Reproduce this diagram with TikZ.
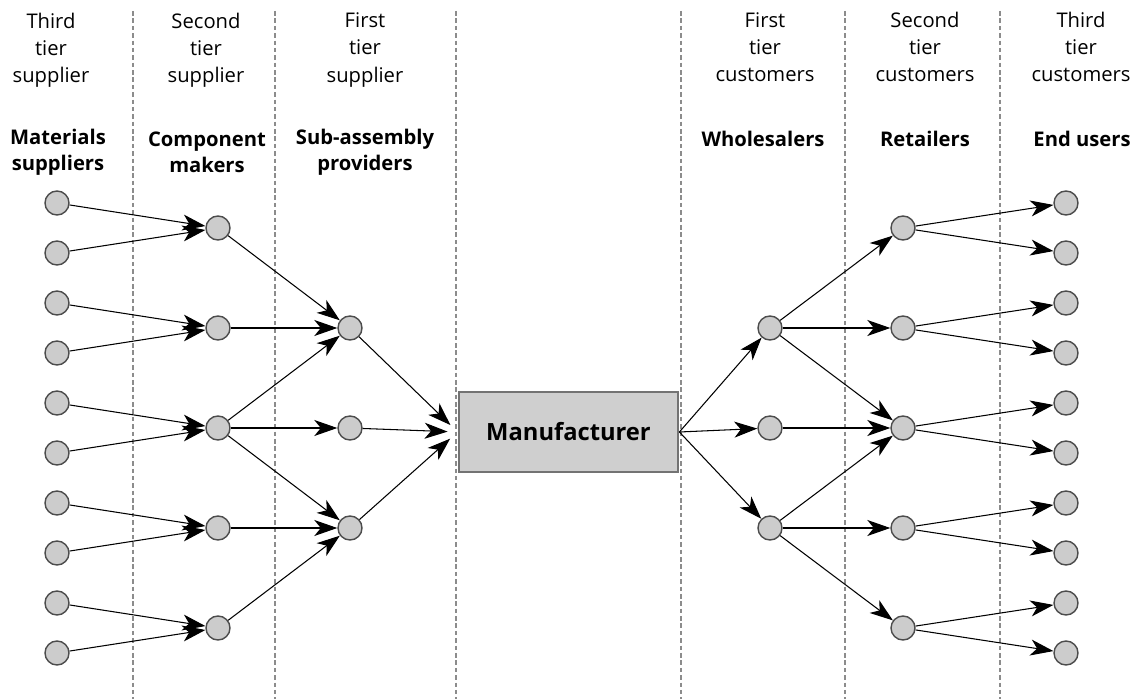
\documentclass[tikz,border=0pt]{standalone}
\usepackage{fontspec}
\setmainfont{Open Sans}
\usetikzlibrary{arrows.meta}
\begin{document}
\begin{tikzpicture}[x=0.02cm,y=-0.02cm,
  dot/.style={circle,draw=black!70,fill=black!20,line width=0.8pt,minimum size=0.48cm,inner sep=0pt},
  flow/.style={line width=0.6pt,-{Stealth[length=0.46cm,width=0.32cm,inset=0.13cm]}},
  divider/.style={draw=black!45,line width=0.7pt,dash pattern=on 2.6pt off 1.6pt},
  hdr/.style={align=center,inner sep=0pt,font=\fontsize{11.5}{15.4}\selectfont},
  role/.style={align=center,inner sep=0pt,font=\fontsize{11.5}{14.8}\selectfont\bfseries},
  plant/.style={draw=black!55,line width=1.6pt,fill=black!19,minimum width=4.38cm,
    minimum height=1.6cm,inner sep=0pt,font=\fontsize{13.5}{16}\selectfont\bfseries}
]
\useasboundingbox (0,0) rectangle (1136,699);

% column dividers
\foreach \x in {133,275,456,681,845,1000}
  \draw[divider] (\x,11) -- (\x,699);

% column headings
\node[hdr] (h1) at (51,50)   {Third\\tier\\supplier};
\node[hdr] (h2) at (206,50)  {Second\\tier\\supplier};
\node[hdr] (h3) at (365,50)  {First\\tier\\supplier};
\node[hdr] (h4) at (765,47)  {First\\tier\\customers};
\node[hdr] (h5) at (925,47)  {Second\\tier\\customers};
\node[hdr] (h6) at (1081,47) {Third\\tier\\customers};

\node[role] (r1h) at (58,152)  {Materials\\suppliers};
\node[role] (r2h) at (207,152) {Component\\makers};
\node[role] (r3h) at (365,152) {Sub-assembly\\providers};
\node[role] (r4h) at (763,139) {Wholesalers};
\node[role] (r5h) at (925,139) {Retailers};
\node[role] (r6h) at (1082,139) {End users};

% manufacturer
\node[plant] (mf) at (568.5,432) {Manufacturer};

% nodes of each tier
\foreach \i in {1,...,10} {
  \node[dot] (m\i) at (57,{203+50*(\i-1)}) {};
  \node[dot] (e\i) at (1066,{203+50*(\i-1)}) {};
}
\foreach \j in {1,...,5} {
  \node[dot] (c\j) at (218,{228+100*(\j-1)}) {};
  \node[dot] (r\j) at (903,{228+100*(\j-1)}) {};
}
\foreach \k in {1,2,3} {
  \node[dot] (s\k) at (350,{228+100*\k}) {};
  \node[dot] (w\k) at (770,{228+100*\k}) {};
}

% supply side and end users
\foreach \j [evaluate=\j as \a using int(2*\j-1), evaluate=\j as \b using int(2*\j)] in {1,...,5} {
  \draw[flow] (m\a) -- (c\j);
  \draw[flow] (m\b) -- (c\j);
  \draw[flow] (r\j) -- (e\a);
  \draw[flow] (r\j) -- (e\b);
}
\draw[flow] (c1) -- (s1);
\draw[flow] (c2) -- (s1);
\draw[flow] (c3) -- (s1);
\draw[flow] (c3) -- (s2);
\draw[flow] (c3) -- (s3);
\draw[flow] (c4) -- (s3);
\draw[flow] (c5) -- (s3);
\foreach \k in {1,2,3}
  \draw[flow,shorten >=0.2cm] (s\k) -- (mf.west);

% distribution side
\foreach \k in {1,2,3}
  \draw[flow] (mf.east) -- (w\k);
\draw[flow] (w1) -- (r1);
\draw[flow] (w1) -- (r2);
\draw[flow] (w1) -- (r3);
\draw[flow] (w2) -- (r3);
\draw[flow] (w3) -- (r3);
\draw[flow] (w3) -- (r4);
\draw[flow] (w3) -- (r5);
\end{tikzpicture}
\end{document}
